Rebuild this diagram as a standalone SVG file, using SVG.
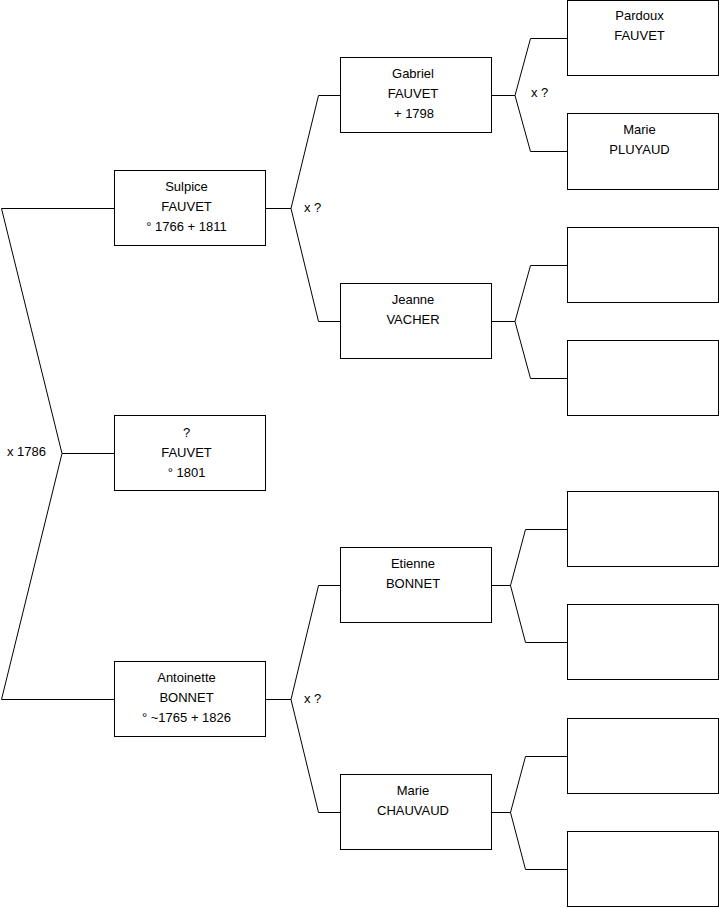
<svg xmlns="http://www.w3.org/2000/svg" width="719" height="908" viewBox="0 0 719 908">
<style>
.box{fill:#fff;stroke:#000;stroke-width:1}
.c{fill:none;stroke:#000;stroke-width:1}
text{font-family:"Liberation Sans",Arial,sans-serif;font-size:13px;fill:#000}
.t{text-anchor:middle}
</style>
<rect width="719" height="908" fill="#fff"/>
<g id="connectors">
<path class="c" d="M114 208.5H1.5L62 453.5L1.5 699.5H114M62 453.5H114"/>
<path class="c" d="M265 208.5H291L318.5 95.5H341M291 208.5L318.5 321.5H341"/>
<path class="c" d="M265 699.5H291L318.5 585.5H341M291 699.5L318.5 812.5H341"/>
<path class="c" d="M491 95.5H515L530.5 38.5H567M515 95.5L530.5 151.5H567"/>
<path class="c" d="M491 321.5H515L530.5 265.5H567M515 321.5L530.5 378.5H567"/>
<path class="c" d="M491 585.5H510.5L525.5 529.5H567M510.5 585.5L525.5 642.5H567"/>
<path class="c" d="M491 812.5H510.5L525.5 756.5H567M510.5 812.5L525.5 869.5H567"/>
<text x="7" y="456">x 1786</text>
<text x="304" y="212">x ?</text>
<text x="304" y="703">x ?</text>
<text x="531" y="97">x ?</text>
</g>
<g id="sulpice"><rect class="box" x="114.5" y="170.5" width="151" height="75"/>
<text class="t" x="186.5" y="191">Sulpice</text><text class="t" x="186.5" y="211">FAUVET</text><text class="t" x="186.5" y="231">° 1766 + 1811</text></g>
<g id="child"><rect class="box" x="114.5" y="415.5" width="151" height="75"/>
<text class="t" x="186.5" y="437">?</text><text class="t" x="186.5" y="457">FAUVET</text><text class="t" x="186.5" y="477">° 1801</text></g>
<g id="antoinette"><rect class="box" x="114.5" y="661.5" width="151" height="75"/>
<text class="t" x="186.5" y="682">Antoinette</text><text class="t" x="186.5" y="702">BONNET</text><text class="t" x="186.5" y="722">° ~1765 + 1826</text></g>
<g id="gabriel"><rect class="box" x="340.5" y="57.5" width="151" height="75"/>
<text class="t" x="413" y="78">Gabriel</text><text class="t" x="413" y="98">FAUVET</text><text class="t" x="414" y="118">+ 1798</text></g>
<g id="jeanne"><rect class="box" x="340.5" y="283.5" width="151" height="75"/>
<text class="t" x="413" y="304">Jeanne</text><text class="t" x="413" y="324">VACHER</text></g>
<g id="etienne"><rect class="box" x="340.5" y="547.5" width="151" height="75"/>
<text class="t" x="413" y="568">Etienne</text><text class="t" x="413" y="588">BONNET</text></g>
<g id="marie-chauvaud"><rect class="box" x="340.5" y="774.5" width="151" height="75"/>
<text class="t" x="413" y="795">Marie</text><text class="t" x="413" y="815">CHAUVAUD</text></g>
<g id="pardoux"><rect class="box" x="567.5" y="0.5" width="151" height="75"/>
<text class="t" x="639.5" y="20">Pardoux</text><text class="t" x="639.5" y="40">FAUVET</text></g>
<g id="marie-pluyaud"><rect class="box" x="567.5" y="113.5" width="151" height="76"/>
<text class="t" x="639.5" y="134">Marie</text><text class="t" x="639.5" y="154">PLUYAUD</text></g>
<g id="empty1"><rect class="box" x="567.5" y="227.5" width="151" height="75"/></g>
<g id="empty2"><rect class="box" x="567.5" y="340.5" width="151" height="75"/></g>
<g id="empty3"><rect class="box" x="567.5" y="491.5" width="151" height="75"/></g>
<g id="empty4"><rect class="box" x="567.5" y="604.5" width="151" height="75"/></g>
<g id="empty5"><rect class="box" x="567.5" y="718.5" width="151" height="75"/></g>
<g id="empty6"><rect class="box" x="567.5" y="831.5" width="151" height="75"/></g>
</svg>
